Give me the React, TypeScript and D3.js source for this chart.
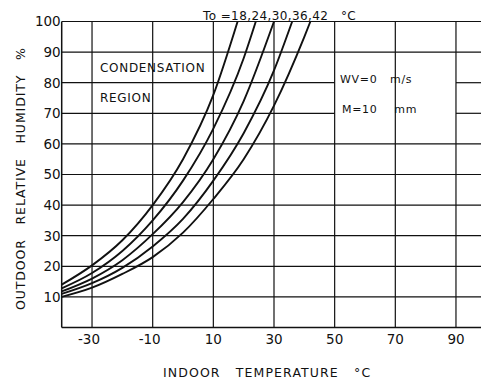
import React, {useEffect, useRef} from 'react';
import * as d3 from 'd3';

// outdoor temperature of each curve (°C)
const outdoorTemps = [18, 24, 30, 36, 42];

// [indoor temperature °C, outdoor relative humidity %]
const curveTo18 = [[-40, 14], [-30, 20.3], [-20, 28.5], [-10, 40], [0, 55], [10, 76], [18, 100]];
const curveTo24 = [[-40, 12.8], [-30, 17.8], [-20, 25], [-10, 35], [0, 48], [10, 65], [20, 88], [24, 100]];
const curveTo30 = [[-40, 11.8], [-30, 16], [-20, 22], [-10, 30.5], [0, 41], [10, 55], [20, 74], [30, 100]];
const curveTo36 = [[-40, 11], [-30, 14.5], [-20, 19.5], [-10, 26.5], [0, 35.5], [10, 48], [20, 63.5], [30, 84], [36, 100]];
const curveTo42 = [[-40, 10], [-30, 13], [-20, 17.5], [-10, 23], [0, 31], [10, 42], [20, 55], [30, 72.5], [40, 95], [42, 100]];

const curves = [curveTo18, curveTo24, curveTo30, curveTo36, curveTo42];

const xTicks = [-30, -10, 10, 30, 50, 70, 90];
const yTicks = [10, 20, 30, 40, 50, 60, 70, 80, 90, 100];

export default function App() {
    const svgRef = useRef<SVGSVGElement>(null);

    useEffect(() => {
        const width = 481;
        const height = 382;
        const font = '"DejaVu Sans", sans-serif';

        const svg = d3.select(svgRef.current);
        svg.selectAll('*').remove();
        svg.attr('width', width).attr('height', height);

        svg.append('rect').attr('width', width).attr('height', height).attr('fill', '#fff');

        const x = d3.scaleLinear().domain([-40, 100]).range([61.7, 486.3]);
        const y = d3.scaleLinear().domain([0, 100]).range([327.5, 21.5]);

        const grid = svg.append('g').attr('stroke', '#111').attr('stroke-width', 1.2);

        // horizontal grid lines; 70 and 80 are broken where the WV / M note sits
        yTicks.forEach(v => {
            if (v === 70 || v === 80) {
                grid.append('line')
                    .attr('x1', x(-40)).attr('x2', x(50))
                    .attr('y1', y(v)).attr('y2', y(v));
                grid.append('line')
                    .attr('x1', x(90)).attr('x2', x(100))
                    .attr('y1', y(v)).attr('y2', y(v));
            } else {
                grid.append('line')
                    .attr('x1', x(-40)).attr('x2', x(100))
                    .attr('y1', y(v)).attr('y2', y(v));
            }
        });

        xTicks.forEach(v => {
            grid.append('line')
                .attr('x1', x(v)).attr('x2', x(v))
                .attr('y1', y(0)).attr('y2', y(100));
        });

        // frame: left and bottom
        grid.append('line')
            .attr('x1', x(-40)).attr('x2', x(-40))
            .attr('y1', y(0)).attr('y2', y(100))
            .attr('stroke-width', 1.5);
        grid.append('line')
            .attr('x1', x(-40)).attr('x2', x(100))
            .attr('y1', y(0)).attr('y2', y(0))
            .attr('stroke-width', 1.5);

        const line = d3.line<number[]>()
            .x(d => x(d[0]))
            .y(d => y(d[1]))
            .curve(d3.curveMonotoneX);

        svg.append('g')
            .selectAll('path')
            .data(curves)
            .enter()
            .append('path')
            .attr('fill', 'none')
            .attr('stroke', '#111')
            .attr('stroke-width', 1.9)
            .attr('d', d => line(d));

        // tick labels
        svg.append('g')
            .selectAll('text')
            .data(yTicks)
            .enter()
            .append('text')
            .attr('x', x(-40) - 1)
            .attr('y', d => y(d))
            .attr('dy', '0.36em')
            .attr('text-anchor', 'end')
            .attr('font-family', font)
            .attr('font-size', 13.5)
            .attr('fill', '#111')
            .text(d => d);

        svg.append('g')
            .selectAll('text')
            .data(xTicks)
            .enter()
            .append('text')
            .attr('x', d => x(d) - (d < 0 ? 3 : 0))
            .attr('y', 344)
            .attr('text-anchor', 'middle')
            .attr('font-family', font)
            .attr('font-size', 13.5)
            .attr('fill', '#111')
            .text(d => d);

        const label = (text: string, px: number, py: number, size: number, spacing: number) =>
            svg.append('text')
                .attr('x', px)
                .attr('y', py)
                .attr('font-family', font)
                .attr('font-size', size)
                .attr('letter-spacing', spacing)
                .attr('fill', '#111')
                .style('white-space', 'pre')
                .text(text);

        // axis titles
        label('INDOOR   TEMPERATURE   °C', 163, 377, 12.5, 1.1);

        svg.append('text')
            .attr('transform', 'translate(25,310) rotate(-90)')
            .attr('font-family', font)
            .attr('font-size', 12.5)
            .attr('letter-spacing', 0.9)
            .attr('fill', '#111')
            .style('white-space', 'pre')
            .text('OUTDOOR   RELATIVE   HUMIDITY   %');

        label(`To =${outdoorTemps.join(',')}   °C`, 203, 20, 12, 0.4);
        label('CONDENSATION', 100, 71.5, 12, 0.7);
        label('REGION', 100, 102, 12, 0.7);
        label('WV=0   m/s', 340, 83, 11, 0.7);
        label('M=10    mm', 342, 113, 11, 0.7);
    }, []);

    return (
        <svg ref={svgRef} style={{position: 'absolute', left: 0, top: 0}}></svg>
    );
}
